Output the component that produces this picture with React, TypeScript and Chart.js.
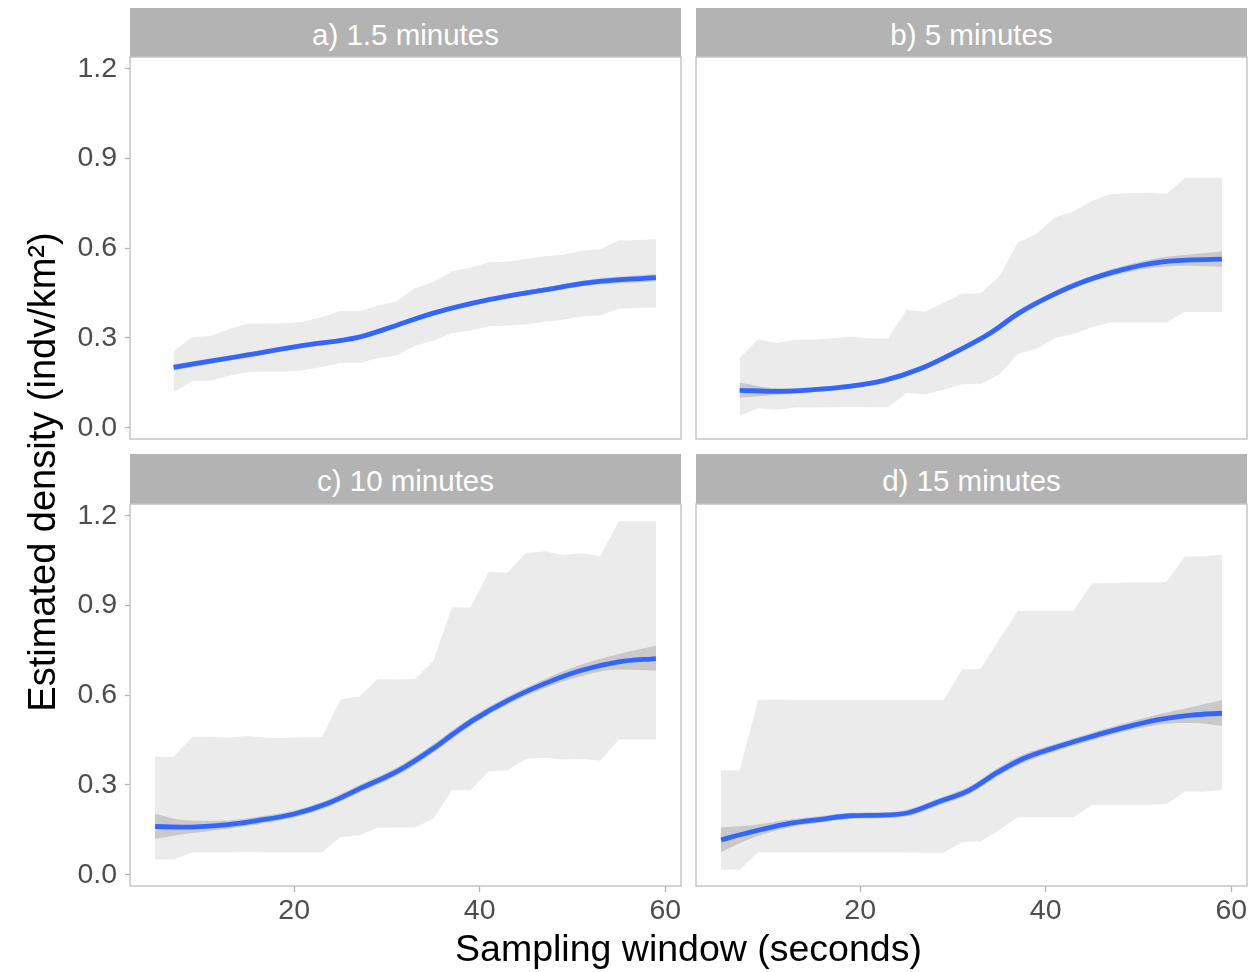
import React, { useEffect, useRef } from "react";
import { Chart, registerables } from "chart.js";

Chart.register(...registerables);

// ---------- axes ----------
const X_TICKS = [20, 40, 60];
const Y_TICKS = [0, 0.3, 0.6, 0.9, 1.2];
const X_MIN = 2.3;
const X_MAX = 61.7;
const Y_MIN = -0.038;
const Y_MAX = 1.24;

const X_TITLE = "Sampling window (seconds)";
const Y_TITLE = "Estimated density (indv/km²)";
const PANEL_TITLES = ["a) 1.5 minutes", "b) 5 minutes", "c) 10 minutes", "d) 15 minutes"];

// ---------- panel a ----------
const aRangeX = [7, 9, 11, 13, 15, 17, 19, 21, 23, 25, 27, 29, 31, 33, 35, 37, 39, 41, 43, 45, 47, 49, 51, 53, 55, 57, 59];
const aRangeHi = [0.255, 0.303, 0.307, 0.330, 0.348, 0.348, 0.349, 0.354, 0.370, 0.390, 0.389, 0.408, 0.422, 0.466, 0.487, 0.523, 0.535, 0.553, 0.555, 0.564, 0.573, 0.578, 0.592, 0.597, 0.626, 0.628, 0.630];
const aRangeLo = [0.119, 0.155, 0.157, 0.174, 0.186, 0.187, 0.187, 0.192, 0.203, 0.216, 0.216, 0.232, 0.241, 0.274, 0.291, 0.316, 0.325, 0.339, 0.341, 0.346, 0.354, 0.361, 0.372, 0.376, 0.398, 0.400, 0.402];
const aFitX = [7, 14, 21, 27, 31, 35, 41, 47, 52, 59];
const aFit = [0.202, 0.238, 0.275, 0.303, 0.342, 0.383, 0.428, 0.461, 0.486, 0.502];
const aFitLo = [0.192, 0.230, 0.268, 0.296, 0.335, 0.376, 0.421, 0.453, 0.476, 0.490];
const aFitHi = [0.212, 0.246, 0.282, 0.310, 0.349, 0.390, 0.435, 0.469, 0.496, 0.514];

// ---------- panel b ----------
const bRangeX = [7, 9, 11, 13, 15, 17, 19, 21, 23, 25, 27, 29, 31, 33, 35, 37, 39, 41, 43, 45, 47, 49, 51, 53, 55, 57, 59];
const bRangeHi = [0.233, 0.296, 0.283, 0.294, 0.294, 0.299, 0.304, 0.299, 0.299, 0.394, 0.388, 0.417, 0.448, 0.450, 0.506, 0.619, 0.648, 0.704, 0.723, 0.759, 0.782, 0.784, 0.786, 0.782, 0.836, 0.836, 0.836];
const bRangeLo = [0.040, 0.065, 0.060, 0.067, 0.067, 0.068, 0.070, 0.068, 0.068, 0.116, 0.112, 0.127, 0.145, 0.146, 0.178, 0.247, 0.263, 0.300, 0.313, 0.336, 0.352, 0.352, 0.352, 0.352, 0.387, 0.387, 0.387];
const bFitX = [7, 11, 15, 18.8, 22.6, 26.4, 30.2, 34, 37.1, 40.5, 44.4, 48.2, 52, 55.8, 59];
const bFit = [0.125, 0.121, 0.127, 0.138, 0.158, 0.196, 0.252, 0.316, 0.383, 0.440, 0.492, 0.528, 0.552, 0.561, 0.564];
const bFitLo = [0.100, 0.110, 0.119, 0.130, 0.150, 0.187, 0.243, 0.306, 0.373, 0.430, 0.482, 0.516, 0.537, 0.542, 0.538];
const bFitHi = [0.150, 0.132, 0.135, 0.146, 0.166, 0.205, 0.261, 0.326, 0.393, 0.450, 0.502, 0.540, 0.567, 0.580, 0.590];

// ---------- panel c ----------
const cRangeX = [5, 7, 9, 11, 13, 15, 17, 19, 21, 23, 25, 27, 29, 31, 33, 35, 37, 39, 41, 43, 45, 47, 49, 51, 53, 55, 57, 59];
const cRangeHi = [0.394, 0.394, 0.461, 0.461, 0.458, 0.465, 0.458, 0.457, 0.460, 0.460, 0.586, 0.595, 0.654, 0.653, 0.654, 0.715, 0.894, 0.894, 1.013, 1.010, 1.077, 1.082, 1.069, 1.075, 1.066, 1.182, 1.182, 1.182];
const cRangeLo = [0.051, 0.051, 0.075, 0.075, 0.075, 0.076, 0.075, 0.075, 0.075, 0.075, 0.126, 0.131, 0.157, 0.158, 0.158, 0.187, 0.282, 0.282, 0.347, 0.349, 0.388, 0.391, 0.385, 0.387, 0.382, 0.452, 0.452, 0.452];
const cFitX = [5, 8, 12, 16, 20, 23.5, 27.3, 31.2, 35, 37.2, 39.3, 43.1, 47, 50.8, 55, 59];
const cFit = [0.161, 0.159, 0.165, 0.181, 0.203, 0.237, 0.291, 0.347, 0.422, 0.472, 0.517, 0.584, 0.639, 0.682, 0.712, 0.723];
const cFitLo = [0.120, 0.135, 0.150, 0.168, 0.191, 0.225, 0.278, 0.333, 0.408, 0.458, 0.503, 0.571, 0.624, 0.663, 0.686, 0.682];
const cFitHi = [0.204, 0.183, 0.180, 0.194, 0.215, 0.249, 0.304, 0.361, 0.436, 0.486, 0.531, 0.597, 0.654, 0.701, 0.738, 0.766];

// ---------- panel d ----------
const dRangeX = [5, 7, 9, 11, 13, 15, 17, 19, 21, 23, 25, 27, 29, 31, 33, 35, 37, 39, 41, 43, 45, 47, 49, 51, 53, 55, 57, 59];
const dRangeHi = [0.348, 0.348, 0.584, 0.586, 0.584, 0.584, 0.584, 0.584, 0.584, 0.584, 0.584, 0.584, 0.584, 0.686, 0.689, 0.788, 0.882, 0.882, 0.882, 0.882, 0.974, 0.976, 0.977, 0.977, 0.979, 1.064, 1.065, 1.070];
const dRangeLo = [0.016, 0.016, 0.075, 0.075, 0.075, 0.075, 0.074, 0.074, 0.074, 0.074, 0.074, 0.073, 0.073, 0.109, 0.111, 0.149, 0.192, 0.192, 0.192, 0.192, 0.233, 0.234, 0.234, 0.234, 0.236, 0.277, 0.277, 0.283];
const dFitX = [5, 8, 12, 16, 19, 22.5, 25.3, 28.3, 31.8, 34.8, 37.5, 40.5, 44.4, 48.2, 52, 55.8, 59];
const dFit = [0.116, 0.141, 0.169, 0.186, 0.197, 0.199, 0.208, 0.242, 0.283, 0.342, 0.387, 0.420, 0.457, 0.490, 0.518, 0.534, 0.540];
const dFitLo = [0.075, 0.118, 0.155, 0.175, 0.187, 0.189, 0.197, 0.230, 0.270, 0.328, 0.373, 0.407, 0.444, 0.476, 0.501, 0.507, 0.498];
const dFitHi = [0.158, 0.164, 0.183, 0.197, 0.207, 0.209, 0.219, 0.254, 0.296, 0.356, 0.401, 0.433, 0.470, 0.504, 0.535, 0.561, 0.584];

// ---------- style ----------
const FONT = "'Liberation Sans', Arial, Helvetica, sans-serif";
const LINE_COLOR = "#3366FF";
const RIBBON_COLOR = "#ebebeb";
const CI_COLOR = "#c9c9c9";
const BORDER_COLOR = "#c2c2c2";
const STRIP_COLOR = "#b3b3b3";
const TICK_COLOR = "#b3b3b3";
const TICK_TEXT = "#4d4d4d";
const PAD = 3;

type PanelDef = {
  title: string;
  rect: { l: number; t: number; r: number; b: number };
  stripTop: number;
  showY: boolean;
  showX: boolean;
  rangeX: number[];
  rangeHi: number[];
  rangeLo: number[];
  fitX: number[];
  fit: number[];
  fitLo: number[];
  fitHi: number[];
};

const PANELS: PanelDef[] = [
  { title: PANEL_TITLES[0], rect: { l: 130, t: 57, r: 681, b: 439 }, stripTop: 8, showY: true, showX: false,
    rangeX: aRangeX, rangeHi: aRangeHi, rangeLo: aRangeLo, fitX: aFitX, fit: aFit, fitLo: aFitLo, fitHi: aFitHi },
  { title: PANEL_TITLES[1], rect: { l: 696, t: 57, r: 1247, b: 439 }, stripTop: 8, showY: false, showX: false,
    rangeX: bRangeX, rangeHi: bRangeHi, rangeLo: bRangeLo, fitX: bFitX, fit: bFit, fitLo: bFitLo, fitHi: bFitHi },
  { title: PANEL_TITLES[2], rect: { l: 130, t: 504, r: 681, b: 886 }, stripTop: 454, showY: true, showX: true,
    rangeX: cRangeX, rangeHi: cRangeHi, rangeLo: cRangeLo, fitX: cFitX, fit: cFit, fitLo: cFitLo, fitHi: cFitHi },
  { title: PANEL_TITLES[3], rect: { l: 696, t: 504, r: 1247, b: 886 }, stripTop: 454, showY: false, showX: true,
    rangeX: dRangeX, rangeHi: dRangeHi, rangeLo: dRangeLo, fitX: dFitX, fit: dFit, fitLo: dFitLo, fitHi: dFitHi },
];

const Y_AXIS_W = 127;
const X_AXIS_H = 40;

const toPts = (xs: number[], ys: number[]) => xs.map((x, i) => ({ x, y: ys[i] }));

const borderPlugin = {
  id: "panelBorder",
  afterDraw(chart: any) {
    const { ctx, chartArea } = chart;
    ctx.save();
    ctx.strokeStyle = BORDER_COLOR;
    ctx.lineWidth = 1.4;
    ctx.strokeRect(chartArea.left, chartArea.top, chartArea.right - chartArea.left, chartArea.bottom - chartArea.top);
    ctx.restore();
  },
};

function Panel({ p }: { p: PanelDef }) {
  const ref = useRef<HTMLCanvasElement | null>(null);
  const yW = p.showY ? Y_AXIS_W : 0;
  const xH = p.showX ? X_AXIS_H : 0;
  const w = p.rect.r - p.rect.l + yW + 2 * PAD;
  const h = p.rect.b - p.rect.t + xH + 2 * PAD;
  const left = p.rect.l - yW - PAD;
  const top = p.rect.t - PAD;

  useEffect(() => {
    if (!ref.current) return;
    const common = { pointRadius: 0, pointHoverRadius: 0 };
    const chart = new Chart(ref.current, {
      type: "line",
      data: {
        datasets: [
          {
            ...common,
            data: toPts(p.fitX, p.fit),
            borderColor: LINE_COLOR,
            borderWidth: 4.8,
            cubicInterpolationMode: "monotone",
            fill: false,
          },
          {
            ...common,
            data: toPts(p.fitX, p.fitHi),
            borderColor: "rgba(0,0,0,0)",
            borderWidth: 0,
            backgroundColor: CI_COLOR,
            cubicInterpolationMode: "monotone",
            fill: "+1",
          },
          {
            ...common,
            data: toPts(p.fitX, p.fitLo),
            borderColor: "rgba(0,0,0,0)",
            borderWidth: 0,
            cubicInterpolationMode: "monotone",
            fill: false,
          },
          {
            ...common,
            data: toPts(p.rangeX, p.rangeHi),
            borderColor: "rgba(0,0,0,0)",
            borderWidth: 0,
            backgroundColor: RIBBON_COLOR,
            tension: 0,
            fill: "+1",
          },
          {
            ...common,
            data: toPts(p.rangeX, p.rangeLo),
            borderColor: "rgba(0,0,0,0)",
            borderWidth: 0,
            tension: 0,
            fill: false,
          },
        ] as any,
      },
      options: {
        animation: false,
        responsive: false,
        maintainAspectRatio: false,
        devicePixelRatio: 1,
        events: [],
        layout: { padding: PAD, autoPadding: false },
        plugins: { legend: { display: false }, tooltip: { enabled: false }, title: { display: false } },
        scales: {
          x: {
            type: "linear",
            min: X_MIN,
            max: X_MAX,
            display: p.showX,
            afterBuildTicks: (s: any) => {
              s.ticks = X_TICKS.map((v) => ({ value: v }));
            },
            afterFit: (s: any) => {
              s.height = xH;
              s.paddingLeft = 0;
              s.paddingRight = 0;
            },
            ticks: {
              font: { family: FONT, size: 28.5 },
              color: TICK_TEXT,
              padding: 2,
              maxRotation: 0,
              autoSkip: false,
              callback: (v: any) => String(v),
            },
            grid: { drawOnChartArea: false, drawTicks: true, tickLength: 6, tickColor: TICK_COLOR, tickWidth: 1.3 },
            border: { display: false },
          },
          y: {
            type: "linear",
            min: Y_MIN,
            max: Y_MAX,
            display: p.showY,
            afterBuildTicks: (s: any) => {
              s.ticks = Y_TICKS.map((v) => ({ value: v }));
            },
            afterFit: (s: any) => {
              s.width = yW;
              s.paddingTop = 0;
              s.paddingBottom = 0;
            },
            ticks: {
              font: { family: FONT, size: 28.5 },
              color: TICK_TEXT,
              padding: 8,
              autoSkip: false,
              callback: (v: any) => Number(v).toFixed(1),
            },
            grid: { drawOnChartArea: false, drawTicks: true, tickLength: 5, tickColor: TICK_COLOR, tickWidth: 1.3 },
            border: { display: false },
          },
        },
      } as any,
      plugins: [borderPlugin],
    });
    return () => chart.destroy();
  }, []);

  return (
    <>
      <div
        style={{
          position: "absolute",
          left: p.rect.l,
          top: p.stripTop,
          width: p.rect.r - p.rect.l,
          height: p.rect.t - p.stripTop,
          background: STRIP_COLOR,
          color: "#ffffff",
          fontFamily: FONT,
          fontSize: 29.5,
          lineHeight: `${p.rect.t - p.stripTop}px`,
          textAlign: "center",
          boxSizing: "border-box",
          paddingTop: 2,
          whiteSpace: "nowrap",
        }}
      >
        {p.title}
      </div>
      <canvas
        ref={ref}
        width={w}
        height={h}
        style={{ position: "absolute", left, top, width: w, height: h }}
      />
    </>
  );
}

export default function App() {
  return (
    <div
      style={{
        position: "fixed",
        left: 0,
        top: 0,
        width: 1257,
        height: 972,
        background: "#ffffff",
        overflow: "hidden",
      }}
    >
      {PANELS.map((p) => (
        <Panel key={p.title} p={p} />
      ))}
      <div
        style={{
          position: "absolute",
          left: 130,
          width: 1117,
          top: 930,
          fontFamily: FONT,
          fontSize: 37.5,
          lineHeight: "37px",
          textAlign: "center",
          color: "#000000",
          whiteSpace: "nowrap",
        }}
      >
        {X_TITLE}
      </div>
      <div
        style={{
          position: "absolute",
          left: 42 - 350,
          top: 472 - 19,
          width: 700,
          height: 38,
          fontFamily: FONT,
          fontSize: 38,
          lineHeight: "38px",
          textAlign: "center",
          color: "#000000",
          whiteSpace: "nowrap",
          transform: "rotate(-90deg)",
          transformOrigin: "50% 50%",
        }}
      >
        {Y_TITLE}
      </div>
    </div>
  );
}
